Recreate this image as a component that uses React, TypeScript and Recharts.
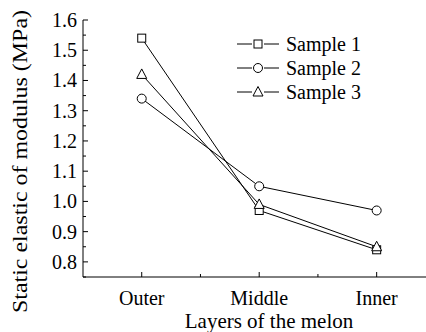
import { LineChart, Line, XAxis, YAxis, Legend } from 'recharts';

const layers = ['Outer', 'Middle', 'Inner'];
const sample1 = [1.54, 0.97, 0.84];
const sample2 = [1.34, 1.05, 0.97];
const sample3 = [1.42, 0.99, 0.85];
const seriesNames = ['Sample 1', 'Sample 2', 'Sample 3'];
const xTicks = [1, 1.5, 2, 2.5, 3];
const yTicks = [0.75, 0.8, 0.85, 0.9, 0.95, 1.0, 1.05, 1.1, 1.15, 1.2, 1.25, 1.3, 1.35, 1.4, 1.45, 1.5, 1.55, 1.6];

const data = layers.map((name, i) => ({
  x: i + 1,
  name,
  s1: sample1[i],
  s2: sample2[i],
  s3: sample3[i],
}));

const FONT = "'Liberation Serif', 'DejaVu Serif', serif";
const txt = { fontFamily: FONT };

function Marker({ shape, cx, cy }: { shape: string; cx: number; cy: number }) {
  if (shape === 'square') {
    return <rect x={cx - 4} y={cy - 4} width={8} height={8} fill="#fff" stroke="#000" strokeWidth={1} />;
  }
  if (shape === 'circle') {
    return <circle cx={cx} cy={cy} r={4.5} fill="#fff" stroke="#000" strokeWidth={1} />;
  }
  return (
    <polygon
      points={`${cx},${cy - 5.5} ${cx - 5},${cy + 4} ${cx + 5},${cy + 4}`}
      fill="#fff"
      stroke="#000"
      strokeWidth={1}
    />
  );
}

const shapes = ['square', 'circle', 'triangle'];

const makeDot = (shape: string) => (props: any) => {
  const { cx, cy, index } = props;
  return <Marker key={`${shape}-${index}`} shape={shape} cx={cx} cy={cy} />;
};

const XTick = (props: any) => {
  const { x, y, payload } = props;
  const v = payload.value;
  const major = Number.isInteger(v);
  return (
    <g>
      <line x1={x} y1={y} x2={x} y2={y - (major ? 5 : 3)} stroke="#000" />
      {major && (
        <text x={x} y={y + 28} textAnchor="middle" style={txt} fontSize={20} fill="#000">
          {layers[v - 1]}
        </text>
      )}
    </g>
  );
};

const YTick = (props: any) => {
  const { x, y, payload } = props;
  const v = payload.value;
  const major = Math.round(v * 100) % 10 === 0;
  return (
    <g>
      <line x1={x} y1={y} x2={x + (major ? 5 : 3)} y2={y} stroke="#000" />
      {major && (
        <text x={x - 6} y={y + 7} textAnchor="end" style={txt} fontSize={20} fill="#000">
          {v.toFixed(1)}
        </text>
      )}
    </g>
  );
};

const renderLegend = () => (
  <svg width={160} height={80} style={{ display: 'block' }}>
    {seriesNames.map((n, i) => {
      const cy = 10 + i * 24;
      return (
        <g key={n}>
          <line x1={2} y1={cy} x2={17} y2={cy} stroke="#000" />
          <line x1={29} y1={cy} x2={44} y2={cy} stroke="#000" />
          <Marker shape={shapes[i]} cx={23} cy={cy} />
          <text x={51} y={cy + 7} style={txt} fontSize={20} fill="#000">
            {n}
          </text>
        </g>
      );
    })}
  </svg>
);

export default function App() {
  return (
    <div style={{ position: 'absolute', left: 0, top: 0, background: '#fff', fontFamily: FONT }}>
      <LineChart width={426} height={332} data={data} margin={{ top: 20, right: 0, bottom: 0, left: 0 }}>
        <XAxis
          dataKey="x"
          type="number"
          domain={[0.5, 3.42]}
          ticks={xTicks}
          interval={0}
          tick={<XTick />}
          tickLine={false}
          tickSize={0}
          tickMargin={0}
          height={55}
          stroke="#000"
          allowDataOverflow
          label={{
            content: () => (
              <text x={269} y={328} textAnchor="middle" style={txt} fontSize={21} fill="#000">
                Layers of the melon
              </text>
            ),
          }}
        />
        <YAxis
          type="number"
          domain={[0.75, 1.6]}
          ticks={yTicks}
          interval={0}
          tick={<YTick />}
          tickLine={false}
          tickSize={0}
          tickMargin={0}
          width={83}
          stroke="#000"
          allowDataOverflow
          label={{
            content: () => (
              <text
                x={27}
                y={161.5}
                transform="rotate(-90 27 161.5)"
                textAnchor="middle"
                style={txt}
                fontSize={20}
                fill="#000"
                textLength={303}
                lengthAdjust="spacingAndGlyphs"
              >
                Static elastic of modulus (MPa)
              </text>
            ),
          }}
        />
        <Legend
          layout="vertical"
          align="center"
          verticalAlign="middle"
          content={renderLegend}
          wrapperStyle={{ left: 235, top: 34, width: 160 }}
        />
        <Line dataKey="s1" name="Sample 1" stroke="#000" strokeWidth={1} dot={makeDot('square')} isAnimationActive={false} />
        <Line dataKey="s2" name="Sample 2" stroke="#000" strokeWidth={1} dot={makeDot('circle')} isAnimationActive={false} />
        <Line dataKey="s3" name="Sample 3" stroke="#000" strokeWidth={1} dot={makeDot('triangle')} isAnimationActive={false} />
      </LineChart>
    </div>
  );
}
